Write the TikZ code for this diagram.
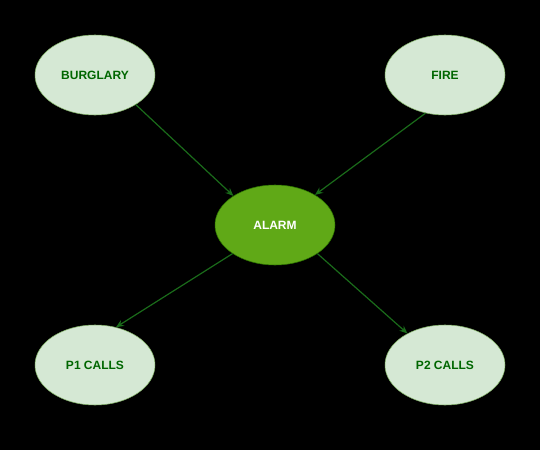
\documentclass[tikz,border=0pt]{standalone}
\usepackage{fontspec}
\setmainfont{Liberation Sans}
\usetikzlibrary{shapes.geometric,arrows.meta}
\definecolor{lightfill}{HTML}{D5E8D4}
\definecolor{lightline}{HTML}{82B366}
\definecolor{darkfill}{HTML}{60A917}
\definecolor{darkline}{HTML}{2D7600}
\definecolor{textgreen}{HTML}{006600}
\definecolor{arrowgreen}{HTML}{1A6B1A}
\begin{document}
\begin{tikzpicture}[x=0.75pt,y=-0.75pt]
  \tikzstyle{every node}=[ellipse,minimum width=90pt,minimum height=60pt,font=\fontsize{9}{11}\selectfont\bfseries]
  \tikzstyle{cause}=[fill=lightfill,draw=lightline,text=textgreen]
  \tikzstyle{alarmnode}=[fill=darkfill,draw=darkline,text=white]
  \tikzstyle{link}=[-{Stealth[length=6pt,width=5pt]},arrowgreen,line width=0.9pt]
  \fill [black] (0,0) rectangle (540,450);
  \useasboundingbox (0,0) rectangle (540,450);
  \node [cause] (burglary) at (95,75)  {BURGLARY};
  \node [cause] (fire)     at (445,75) {FIRE};
  \node [alarmnode] (alarm) at (275,225) {ALARM};
  \node [cause] (p1) at (95,365)  {P1 CALLS};
  \node [cause] (p2) at (445,365) {P2 CALLS};
  \draw [link] (burglary.-36) -- (alarm.145);
  \draw [link] (fire.243) -- (alarm.37);
  \draw [link] (alarm.214) -- (p1.61);
  \draw [link] (alarm.-34) -- (p2.140);
\end{tikzpicture}
\end{document}
